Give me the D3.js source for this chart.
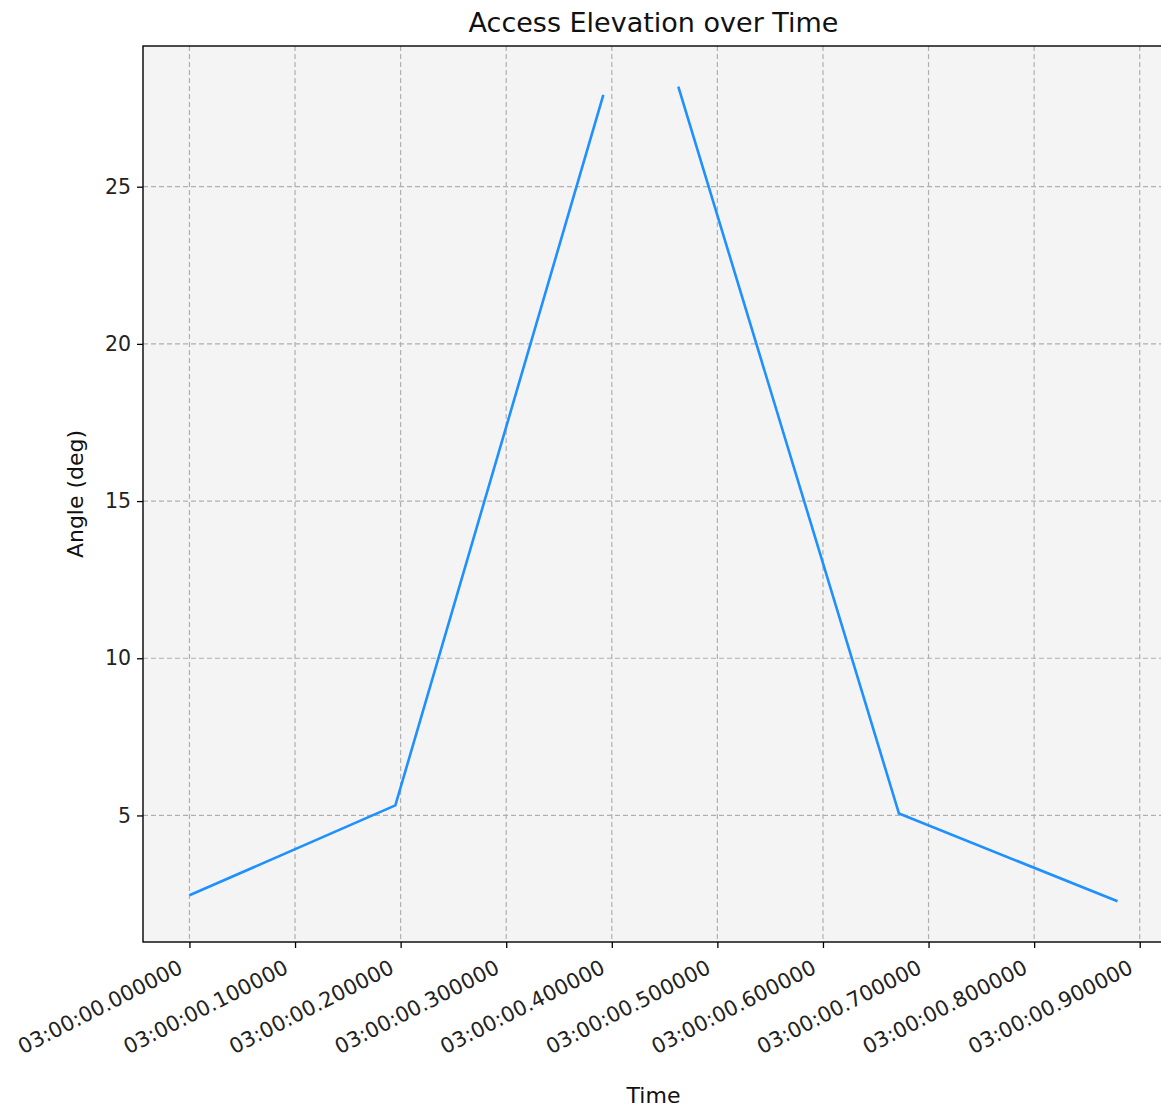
<!DOCTYPE html>
<html>
<head>
<meta charset="utf-8">
<script src="https://cdn.jsdelivr.net/npm/d3@7"></script>
<style>
  html, body { margin: 0; padding: 0; background: #fff; }
  svg { display: block; font-family: "DejaVu Sans", sans-serif; }
</style>
</head>
<body>
<div id="chart"></div>
<script>
// ---- data (seconds after 03:00:00, elevation angle in degrees; NaN = gap) ----
const timeOffsets = [0.0, 0.1956, 0.3924, 0.428, 0.4639, 0.6720, 0.8799];
const angles      = [2.46, 5.32,  27.92,  NaN,   28.18,  5.06,   2.27];
const xTickOffsets = [0, 0.1, 0.2, 0.3, 0.4, 0.5, 0.6, 0.7, 0.8, 0.9];
const yTicks = [5, 10, 15, 20, 25];
const titleText = "Access Elevation over Time";
const xLabel = "Time";
const yLabel = "Angle (deg)";

const base = Date.UTC(2000, 0, 1, 3, 0, 0);
const toDate = s => new Date(base + s * 1000);
const data = timeOffsets.map((t, i) => ({ t: toDate(t), v: angles[i] }));

const W = 1161, H = 1111;
const m = { left: 143, top: 46, right: 1164, bottom: 942 };

const svg = d3.select("#chart").append("svg").attr("width", W).attr("height", H);

const tExt = d3.extent(timeOffsets);
const tPad = (tExt[1] - tExt[0]) * 0.05;
const vals = angles.filter(v => !isNaN(v));
const vExt = d3.extent(vals);
const vPad = (vExt[1] - vExt[0]) * 0.05;

const x = d3.scaleUtc().domain([toDate(tExt[0] - tPad), toDate(tExt[1] + tPad)]).range([m.left, m.right]);
const y = d3.scaleLinear().domain([vExt[0] - vPad, vExt[1] + vPad]).range([m.bottom, m.top]);

// background
svg.append("rect").attr("x", m.left).attr("y", m.top)
  .attr("width", m.right - m.left).attr("height", m.bottom - m.top).attr("fill", "#f4f4f4");

const xTickDates = xTickOffsets.map(toDate);
const fmt = d3.utcFormat("%H:%M:%S.%f");

// grid
const grid = svg.append("g").attr("stroke", "#b0b0b0").attr("stroke-width", 1.2).attr("stroke-dasharray", "5,3");
grid.selectAll("line.gx").data(xTickDates).join("line")
  .attr("x1", d => x(d)).attr("x2", d => x(d)).attr("y1", m.top).attr("y2", m.bottom);
grid.selectAll("line.gy").data(yTicks).join("line")
  .attr("y1", d => y(d)).attr("y2", d => y(d)).attr("x1", m.left).attr("x2", m.right);

// line
const line = d3.line().defined(d => !isNaN(d.v)).x(d => x(d.t)).y(d => y(d.v));
svg.append("path").datum(data).attr("d", line)
  .attr("fill", "none").attr("stroke", "#1e90ff").attr("stroke-width", 2.6);

// axes
const xAxis = d3.axisBottom(x).tickValues(xTickDates).tickFormat(fmt).tickSize(6).tickPadding(4);
const gx = svg.append("g").attr("transform", `translate(0,${m.bottom})`).call(xAxis);
gx.select(".domain").remove();
gx.selectAll(".tick line").attr("stroke", "#000").attr("stroke-width", 1.3);
gx.selectAll(".tick text")
  .attr("font-size", 21).attr("fill", "#222").attr("font-family", "DejaVu Sans, sans-serif")
  .attr("text-anchor", "end").attr("dy", null).attr("y", 0)
  .attr("dominant-baseline", "central")
  .attr("transform", "translate(-9,24) rotate(-27)");

const yAxis = d3.axisLeft(y).tickValues(yTicks).tickSize(6).tickPadding(6);
const gy = svg.append("g").attr("transform", `translate(${m.left},0)`).call(yAxis);
gy.select(".domain").remove();
gy.selectAll(".tick line").attr("stroke", "#000").attr("stroke-width", 1.3);
gy.selectAll(".tick text").attr("font-size", 20.5).attr("fill", "#222").attr("font-family", "DejaVu Sans, sans-serif");

// spines
svg.append("rect").attr("x", m.left).attr("y", m.top)
  .attr("width", m.right - m.left).attr("height", m.bottom - m.top)
  .attr("fill", "none").attr("stroke", "#000").attr("stroke-width", 1.4);

// labels
svg.append("text").attr("x", (m.left + m.right) / 2).attr("y", 32).attr("text-anchor", "middle")
  .attr("font-size", 27).attr("fill", "#111").text(titleText);
svg.append("text").attr("x", (m.left + m.right) / 2).attr("y", 1103).attr("text-anchor", "middle")
  .attr("font-size", 22).attr("fill", "#111").text(xLabel);
svg.append("text").attr("transform", `translate(83,${(m.top + m.bottom) / 2}) rotate(-90)`)
  .attr("text-anchor", "middle").attr("font-size", 22).attr("fill", "#111").text(yLabel);
</script>
</body>
</html>
